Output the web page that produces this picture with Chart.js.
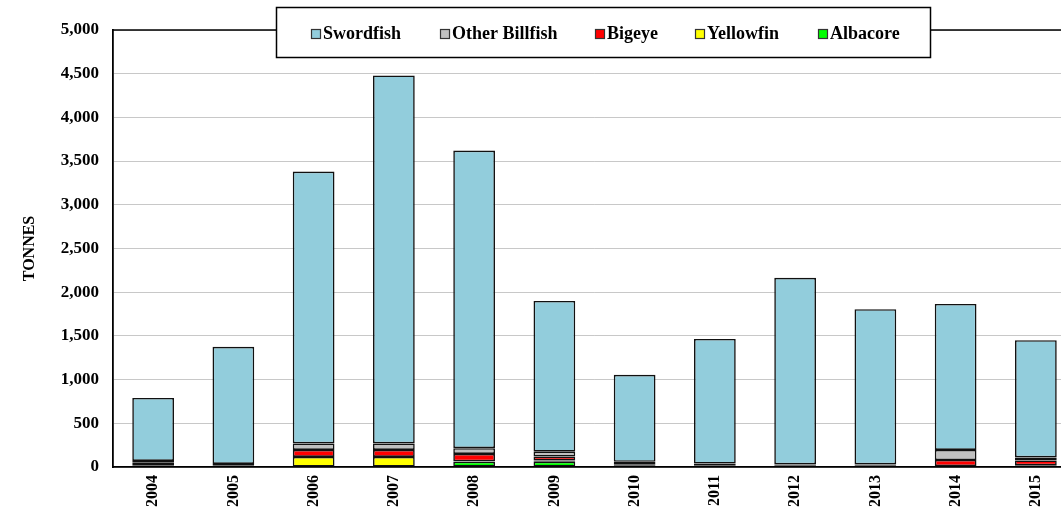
<!DOCTYPE html>
<html><head><meta charset="utf-8">
<script src="https://cdn.jsdelivr.net/npm/chart.js@4"></script>
<style>html,body{margin:0;padding:0;overflow:hidden;background:#fff;width:1061px;height:515px}canvas{display:block}</style>
</head><body>
<canvas id="c" width="1080" height="515" style="width:1080px;height:515px"></canvas>
<script>
const years = ['2004','2005','2006','2007','2008','2009','2010','2011','2012','2013','2014','2015'];
const albacore = [10,5,0,0,60,60,10,5,5,5,5,10];
const yellowfin = [10,5,115,115,5,15,5,5,5,5,5,10];
const bigeye = [30,10,80,80,85,45,10,10,5,5,70,55];
const otherBillfish = [20,15,75,75,65,55,35,20,15,15,115,35];
const swordfish = [720,1340,3110,4210,3405,1725,995,1425,2135,1775,1670,1340];
const yTicks = [0,500,1000,1500,2000,2500,3000,3500,4000,4500,5000];

const FONT = '"Liberation Serif", "Times New Roman", serif';
const mk = (label, data, color) => ({label, data, backgroundColor: color, borderColor: '#111', borderWidth: 1.6, borderSkipped: false, stack: 's'});
const datasets = [
  mk('Albacore', albacore, '#00FF00'),
  mk('Yellowfin', yellowfin, '#FFFF00'),
  mk('Bigeye', bigeye, '#FF0000'),
  mk('Other Billfish', otherBillfish, '#C0C0C0'),
  mk('Swordfish', swordfish, '#92CDDC')
];

const legendPlugin = {
  id: 'boxLegend',
  afterDraw(chart) {
    const ctx = chart.ctx;
    ctx.save();
    ctx.fillStyle = '#fff';
    ctx.fillRect(276, 7, 654, 50);
    ctx.strokeStyle = '#000';
    ctx.lineWidth = 1.5;
    ctx.strokeRect(276.5, 7.5, 654, 50);
    const order = [4,3,2,1,0];
    const xs = [311, 440, 595, 695, 818];
    ctx.font = 'bold 18px ' + FONT;
    ctx.textBaseline = 'middle';
    order.forEach((di, i) => {
      const ds = chart.data.datasets[di];
      const x = xs[i];
      ctx.fillStyle = ds.backgroundColor;
      ctx.fillRect(x, 29, 9, 9);
      ctx.strokeStyle = '#333';
      ctx.lineWidth = 1.2;
      ctx.strokeRect(x + 0.5, 29.5, 9, 9);
      ctx.fillStyle = '#000';
      ctx.fillText(ds.label, x + 12, 34);
    });
    ctx.restore();
  }
};

const borderPlugin = {
  id: 'topBorder',
  beforeDatasetsDraw(chart) {
    const {ctx, chartArea: a} = chart;
    ctx.save();
    ctx.strokeStyle = '#000';
    ctx.lineWidth = 1.5;
    ctx.beginPath();
    ctx.moveTo(a.left, a.top);
    ctx.lineTo(a.right, a.top);
    ctx.stroke();
    ctx.restore();
  }
};

new Chart(document.getElementById('c'), {
  type: 'bar',
  data: {labels: years, datasets},
  plugins: [borderPlugin, legendPlugin],
  options: {
    responsive: false,
    animation: false,
    layout: {padding: {left: 0, right: 4, top: 30, bottom: 0}},
    plugins: {legend: {display: false}, tooltip: {enabled: false}},
    datasets: {bar: {categoryPercentage: 1, barPercentage: 0.52}},
    scales: {
      x: {
        stacked: true,
        grid: {display: false, drawTicks: false},
        border: {color: '#000', width: 1.8},
        ticks: {color: '#000', font: {family: FONT, size: 16, weight: 'bold'}, maxRotation: 90, minRotation: 90, padding: 8, autoSkip: false},
        afterFit(s) { s.height = 48; }
      },
      y: {
        stacked: true,
        min: 0, max: 5000,
        afterBuildTicks(s) { s.ticks = yTicks.map(v => ({value: v})); },
        grid: {color: '#C8C8C8', lineWidth: 1, drawTicks: false},
        border: {color: '#000', width: 1.8},
        ticks: {color: '#000', font: {family: FONT, size: 17, weight: 'bold'}, padding: 14,
          callback: v => v.toLocaleString('en-US')},
        title: {display: true, text: 'TONNES', color: '#000', font: {family: FONT, size: 16, weight: 'bold'}, padding: {top: 20, bottom: 0}},
        afterFit(s) { s.width = 113; }
      }
    }
  }
});
</script>
</body></html>
